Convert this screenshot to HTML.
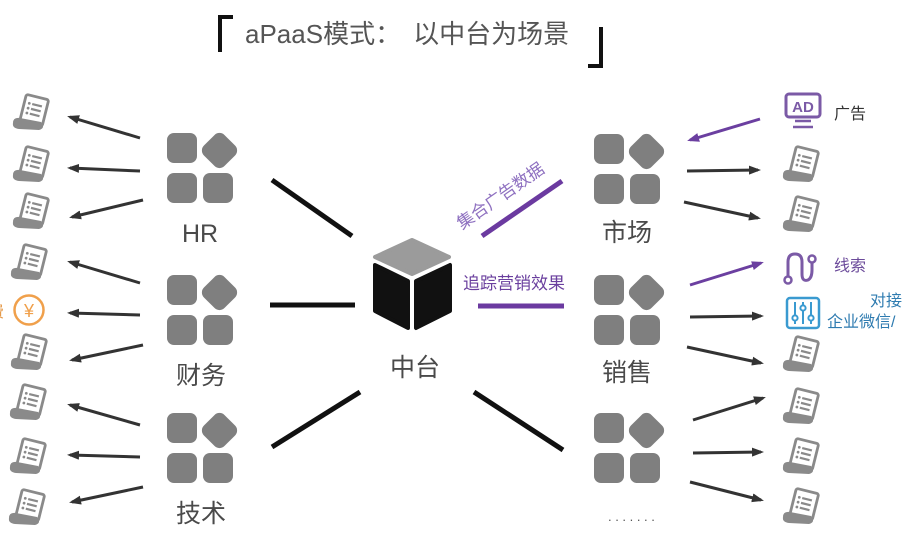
<!DOCTYPE html>
<html><head><meta charset="utf-8">
<style>
html,body{margin:0;padding:0;background:#fff;}
svg{display:block;}
text{font-family:"Liberation Sans","Noto Sans CJK SC",sans-serif;}
</style></head>
<body>
<svg width="907" height="549" viewBox="0 0 907 549" xmlns="http://www.w3.org/2000/svg">
<defs>
  <marker id="ah" markerWidth="13" markerHeight="10" refX="9" refY="4.5" orient="auto" markerUnits="userSpaceOnUse">
    <path d="M0,0 L12,4.5 L0,9 z" fill="#333"/>
  </marker>
  <marker id="ahp" markerWidth="13" markerHeight="10" refX="9" refY="4.5" orient="auto" markerUnits="userSpaceOnUse">
    <path d="M0,0 L12,4.5 L0,9 z" fill="#6b3fa0"/>
  </marker>
  <g id="doc">
    <g transform="rotate(14 20 18)">
      <rect x="11" y="1" width="23" height="27" rx="2" fill="#fff" stroke="#8a8a8a" stroke-width="2.8"/>
      <circle cx="16" cy="9" r="1.4" fill="#8a8a8a"/>
      <circle cx="16" cy="14" r="1.4" fill="#8a8a8a"/>
      <circle cx="16" cy="19" r="1.4" fill="#8a8a8a"/>
      <line x1="19" y1="9" x2="29" y2="9" stroke="#8a8a8a" stroke-width="2.2"/>
      <line x1="19" y1="14" x2="29" y2="14" stroke="#8a8a8a" stroke-width="2.2"/>
      <line x1="19" y1="19" x2="29" y2="19" stroke="#8a8a8a" stroke-width="2.2"/>
    </g>
    <path d="M2,28 Q2,22 9,23 L30,27 Q35,33 28,35 L8,34 Q1,33 2,28 Z" fill="#8a8a8a"/>
  </g>
  <g id="grp">
    <rect x="0" y="0" width="30" height="30" rx="7" fill="#7f7f7f"/>
    <rect x="0" y="40" width="30" height="30" rx="7" fill="#7f7f7f"/>
    <rect x="36" y="40" width="30" height="30" rx="7" fill="#7f7f7f"/>
    <rect x="38" y="3" width="29" height="29" rx="7" fill="#7f7f7f" transform="rotate(45 52.5 17.5)"/>
  </g>
</defs>

<!-- Title -->
<path d="M220,52 L220,17 L233,17" fill="none" stroke="#111" stroke-width="4"/>
<path d="M601,27 L601,66 L588,66" fill="none" stroke="#111" stroke-width="4"/>
<text x="245" y="43" font-size="26" fill="#555">aPaaS模式：<tspan dx="12">以中台为场景</tspan></text>

<!-- Groups -->
<use href="#grp" x="167" y="133"/>
<use href="#grp" x="167" y="275"/>
<use href="#grp" x="167" y="413"/>
<use href="#grp" x="594" y="134"/>
<use href="#grp" x="594" y="275"/>
<use href="#grp" x="594" y="413"/>

<g font-size="25" fill="#4a4a4a" text-anchor="middle">
  <text x="200" y="242">HR</text>
  <text x="201" y="384">财务</text>
  <text x="201" y="522">技术</text>
  <text x="627" y="241">市场</text>
  <text x="627" y="381">销售</text>
  <text x="415" y="376">中台</text>
</g>
<text x="608" y="521" font-size="13" fill="#555" letter-spacing="3.6">.......</text>

<!-- Cube -->
<g stroke-linejoin="round" stroke-width="4">
  <polygon points="412,240 449,257 412,274 375,257" fill="#9b9b9b" stroke="#9b9b9b"/>
  <polygon points="375,265 408,281 408,328 375,311" fill="#111" stroke="#111"/>
  <polygon points="416,281 450,265 450,311 416,328" fill="#111" stroke="#111"/>
</g>

<!-- center lines -->
<g stroke="#111" stroke-width="5">
  <line x1="272" y1="180" x2="352" y2="236"/>
  <line x1="270" y1="305" x2="355" y2="305"/>
  <line x1="272" y1="447" x2="360" y2="392"/>
  <line x1="474" y1="392" x2="563" y2="450"/>
</g>

<!-- purple lines and labels -->
<line x1="482" y1="236" x2="562" y2="181" stroke="#6b3aa0" stroke-width="5"/>
<line x1="478" y1="306" x2="564" y2="306" stroke="#6b3aa0" stroke-width="5"/>
<text x="0" y="0" font-size="17" fill="#8e70c0" transform="translate(462,230) rotate(-35)">集合广告数据</text>
<text x="463" y="289" font-size="17" fill="#6a3f9e">追踪营销效果</text>

<!-- left arrows -->
<g stroke="#333" stroke-width="3" marker-end="url(#ah)">
  <line x1="140" y1="138" x2="70" y2="117"/>
  <line x1="140" y1="171" x2="70" y2="168"/>
  <line x1="143" y1="200" x2="72" y2="217"/>
  <line x1="140" y1="283" x2="70" y2="262"/>
  <line x1="140" y1="315" x2="70" y2="313"/>
  <line x1="143" y1="345" x2="72" y2="360"/>
  <line x1="140" y1="425" x2="70" y2="405"/>
  <line x1="140" y1="457" x2="70" y2="455"/>
  <line x1="143" y1="487" x2="72" y2="502"/>
</g>

<!-- right arrows -->
<g stroke="#333" stroke-width="3" marker-end="url(#ah)">
  <line x1="687" y1="171" x2="758" y2="170"/>
  <line x1="684" y1="202" x2="758" y2="218"/>
  <line x1="690" y1="317" x2="761" y2="316"/>
  <line x1="687" y1="347" x2="761" y2="363"/>
  <line x1="693" y1="420" x2="763" y2="398"/>
  <line x1="693" y1="453" x2="761" y2="452"/>
  <line x1="690" y1="482" x2="761" y2="500"/>
</g>
<g stroke="#6b3fa0" stroke-width="3" marker-end="url(#ahp)">
  <line x1="760" y1="119" x2="690" y2="140"/>
  <line x1="690" y1="285" x2="761" y2="263"/>
</g>

<!-- left docs -->
<use href="#doc" x="11" y="95"/>
<use href="#doc" x="11" y="147"/>
<use href="#doc" x="11" y="194"/>
<use href="#doc" x="9" y="245"/>
<use href="#doc" x="9" y="335"/>
<use href="#doc" x="8" y="385"/>
<use href="#doc" x="8" y="439"/>
<use href="#doc" x="7" y="490"/>

<!-- coin -->
<circle cx="29" cy="310" r="14.5" fill="#fff" stroke="#f0a04b" stroke-width="2.5"/>
<text x="29" y="317" font-size="18" fill="#f0a04b" text-anchor="middle">¥</text>
<text x="-12" y="317" font-size="16" fill="#e59a4a">费</text>

<!-- right docs -->
<use href="#doc" x="781" y="147"/>
<use href="#doc" x="781" y="197"/>
<use href="#doc" x="781" y="337"/>
<use href="#doc" x="781" y="389"/>
<use href="#doc" x="781" y="439"/>
<use href="#doc" x="781" y="489"/>

<!-- AD icon -->
<rect x="786" y="94" width="34" height="23" rx="3" fill="none" stroke="#7b5aa6" stroke-width="3"/>
<text x="803" y="112" font-size="15" font-weight="bold" fill="#7b5aa6" text-anchor="middle">AD</text>
<line x1="795" y1="121" x2="811" y2="121" stroke="#7b5aa6" stroke-width="2.5"/>
<line x1="793" y1="127" x2="813" y2="127" stroke="#7b5aa6" stroke-width="2.5"/>
<text x="834" y="119" font-size="16" fill="#333">广告</text>

<!-- 线索 icon -->
<path d="M788,276 L788,262 Q788,254 795,254 Q802,254 802,262 L802,274 Q802,282 808,280 Q812,278 812,270 L812,263" fill="none" stroke="#7b5aa6" stroke-width="3"/>
<circle cx="788" cy="280" r="3.5" fill="#fff" stroke="#7b5aa6" stroke-width="2.5"/>
<circle cx="812" cy="259" r="3.5" fill="#fff" stroke="#7b5aa6" stroke-width="2.5"/>
<text x="834" y="271" font-size="16" fill="#6b4a9a">线索</text>

<!-- settings icon -->
<rect x="787" y="298" width="32" height="30" rx="3" fill="none" stroke="#3a9ad0" stroke-width="2.5"/>
<g stroke="#3a9ad0" stroke-width="2" fill="#fff">
  <line x1="795" y1="302" x2="795" y2="324"/>
  <line x1="803" y1="302" x2="803" y2="324"/>
  <line x1="811" y1="302" x2="811" y2="324"/>
  <circle cx="795" cy="318" r="2.6"/>
  <circle cx="803" cy="308" r="2.6"/>
  <circle cx="811" cy="318" r="2.6"/>
</g>
<text x="870" y="306" font-size="16" fill="#2e7bb0">对接</text>
<text x="827" y="327" font-size="16" fill="#2e7bb0">企业微信/</text>
</svg>
</body></html>
